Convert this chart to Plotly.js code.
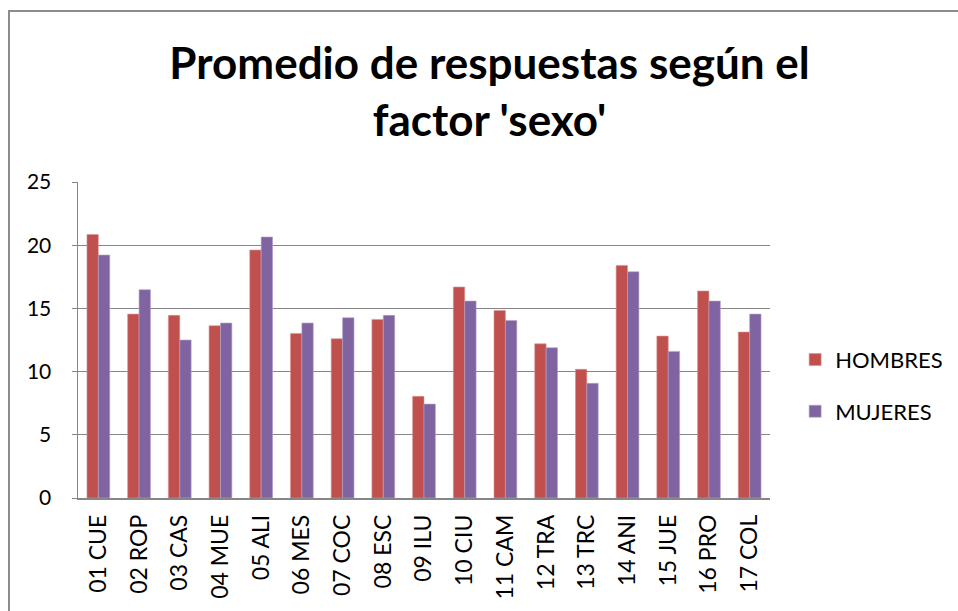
<!DOCTYPE html>
<html>
<head>
<meta charset="utf-8">
<script src="https://cdn.plot.ly/plotly-3.0.1.min.js"></script>
<style>
  html, body { margin: 0; padding: 0; background: #fff; overflow: hidden; }
  #frame { position: absolute; left: 8px; top: 10px; width: 1000px; height: 700px; border: 2px solid #8c8c8c; box-sizing: border-box; pointer-events: none; z-index: 5; }
  #chart { position: absolute; left: 0; top: 0; width: 958px; height: 611px; }
</style>
</head>
<body>
<div id="chart"></div>
<div id="frame"></div>
<script>
const categories = ["01 CUE","02 ROP","03 CAS","04 MUE","05 ALI","06 MES","07 COC","08 ESC","09 ILU","10 CIU","11 CAM","12 TRA","13 TRC","14 ANI","15 JUE","16 PRO","17 COL"];
const hombres = [20.85, 14.55, 14.45, 13.63, 19.62, 13.02, 12.6, 14.13, 8.04, 16.69, 14.84, 12.2, 10.18, 18.4, 12.81, 16.38, 13.13];
const mujeres = [19.22, 16.48, 12.5, 13.84, 20.65, 13.84, 14.26, 14.45, 7.43, 15.58, 14.05, 11.89, 9.07, 17.9, 11.6, 15.58, 14.55];
const yTicks = [0, 5, 10, 15, 20, 25];

const font = "Lato, 'Open Sans', sans-serif";

const data = [
  { type: 'bar', name: 'HOMBRES', x: categories, y: hombres, legendgroup: 'h',
    marker: { color: '#C0504D', line: { color: '#D99694', width: 0.6 } } },
  { type: 'bar', name: 'MUJERES', x: categories, y: mujeres, legendgroup: 'm',
    marker: { color: '#8064A2', line: { color: '#B3A2C7', width: 0.6 } } }
];

const layout = {
  width: 958, height: 611,
  paper_bgcolor: '#ffffff', plot_bgcolor: '#ffffff',
  margin: { l: 78, r: 188, t: 182, b: 113, autoexpand: false },
  barmode: 'group', bargap: 0.44, bargroupgap: 0,
  title: {
    text: "Promedio de respuestas según el<br>factor 'sexo'",
    font: { family: font, size: 44, color: '#000', weight: 'bold' },
    x: 0.511, xanchor: 'center', y: 0.871, yanchor: 'middle'
  },
  xaxis: {
    type: 'category', tickangle: -90,
    tickfont: { family: font, size: 23, color: '#000' },
    showline: true, linecolor: '#868686', linewidth: 1.5,
    ticks: '', showgrid: false, ticklabelstandoff: 6
  },
  yaxis: {
    range: [0, 25], tickvals: yTicks, ticktext: yTicks.map(String),
    tickfont: { family: font, size: 21, color: '#000' },
    showline: true, linecolor: '#868686', linewidth: 1.5,
    showgrid: true, gridcolor: '#868686', gridwidth: 1.2,
    ticks: 'outside', ticklen: 5, tickcolor: '#868686',
    ticklabelstandoff: 16, zeroline: false
  },
  legend: {
    xref: 'container', x: 0.83, xanchor: 'left', y: 0.355, yanchor: 'middle',
    font: { family: font, size: 22, color: '#000' },
    traceorder: 'grouped', tracegroupgap: 20,
    itemwidth: 30, bgcolor: 'rgba(0,0,0,0)'
  },
  showlegend: true
};

Plotly.newPlot('chart', data, layout, { displayModeBar: false, staticPlot: true });
</script>
</body>
</html>
